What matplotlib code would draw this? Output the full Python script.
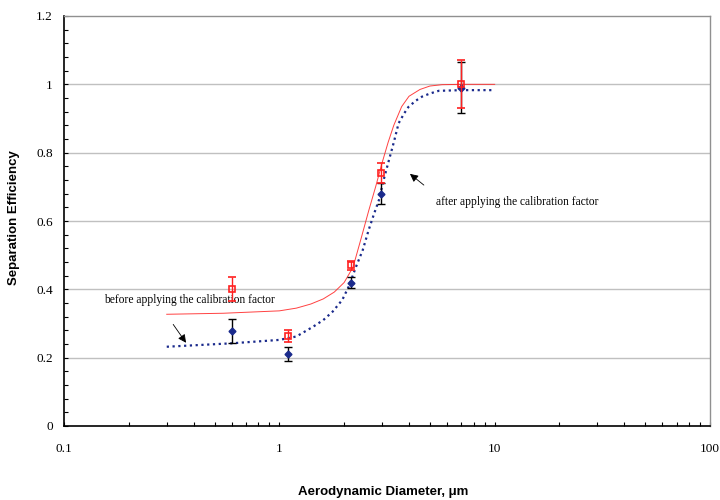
import matplotlib
matplotlib.use("Agg")
import matplotlib.pyplot as plt
from matplotlib.ticker import MultipleLocator, LogLocator, NullFormatter, FixedLocator, FixedFormatter

# measured points
x_pts = [0.6, 1.1, 2.15, 2.95, 7.0]
after_y = [0.40, 0.263, 0.47, 0.74, 1.0]
after_err = [0.035, 0.018, 0.012, 0.03, 0.07]
before_y = [0.277, 0.21, 0.42, 0.68, 0.99]
before_err = [0.035, 0.02, 0.015, 0.03, 0.075]

# fitted curves
after_cx = [0.3, 0.55, 1.0, 1.2, 1.4, 1.6, 1.8, 2.0, 2.2, 2.4, 2.6, 2.8, 3.0, 3.2, 3.4, 3.7, 4.0, 4.5, 5.0, 5.7, 7.0, 10.0]
after_cy = [0.327, 0.330, 0.337, 0.345, 0.357, 0.372, 0.392, 0.42, 0.465, 0.55, 0.63, 0.70, 0.77, 0.83, 0.88, 0.935, 0.965, 0.985, 0.995, 0.999, 1.0, 1.0]
before_cx = [0.3, 0.6, 1.0, 1.2, 1.43, 1.6, 1.77, 1.96, 2.1, 2.27, 2.44, 2.6, 2.75, 2.9, 3.05, 3.2, 3.4, 3.58, 3.8, 3.98, 4.3, 4.6, 5.0, 5.5, 7.0, 10.0]
before_cy = [0.232, 0.242, 0.252, 0.262, 0.29, 0.31, 0.335, 0.369, 0.408, 0.466, 0.515, 0.574, 0.62, 0.661, 0.72, 0.769, 0.83, 0.886, 0.915, 0.934, 0.952, 0.964, 0.973, 0.981, 0.983, 0.983]

x_ticks = [0.1, 1, 10, 100]
x_ticklabels = ["0.1", "1", "10", "100"]
y_ticks = [0, 0.2, 0.4, 0.6, 0.8, 1.0, 1.2]
y_ticklabels = ["0", "0.2", "0.4", "0.6", "0.8", "1", "1.2"]

RED = "#ff2020"
BLUE = "#1a2a8c"

fig = plt.figure(figsize=(7.2, 5.0), dpi=100)
ax = fig.add_axes([64/720, 74/500, 646/720, 410/500])
ax.set_xscale("log")
ax.set_xlim(0.1, 100)
ax.set_ylim(0, 1.2)

for v in y_ticks[1:-1]:
    ax.axhline(v, color="#c0c0c0", lw=1.0, zorder=0)

ax.plot(after_cx, after_cy, color=RED, lw=0.7, alpha=0.85, zorder=2)
ax.plot(before_cx, before_cy, color=BLUE, lw=1.6, ls=(0, (1, 1.6)), zorder=2)

ax.errorbar(x_pts, before_y, yerr=before_err, fmt="D", ms=3.5, mfc=BLUE, mec=BLUE,
            ecolor="black", elinewidth=1.0, capsize=3, capthick=1.0, zorder=3)
ax.errorbar(x_pts, after_y, yerr=after_err, fmt="s", ms=4.5, mfc="none", mec=RED, mew=1.2,
            ecolor=RED, elinewidth=1.0, capsize=3, capthick=1.0, zorder=4)

ax.xaxis.set_major_locator(FixedLocator(x_ticks))
ax.xaxis.set_major_formatter(FixedFormatter(x_ticklabels))
ax.xaxis.set_minor_locator(LogLocator(base=10, subs=range(2, 10)))
ax.xaxis.set_minor_formatter(NullFormatter())
ax.yaxis.set_major_locator(FixedLocator(y_ticks))
ax.yaxis.set_major_formatter(FixedFormatter(y_ticklabels))
ax.yaxis.set_minor_locator(MultipleLocator(0.04))

for lab in ax.get_xticklabels() + ax.get_yticklabels():
    lab.set_fontfamily("Liberation Serif")
    lab.set_fontsize(9.5)
ax.tick_params(axis="x", which="both", direction="in", length=3, width=0.8, pad=12)
ax.tick_params(axis="y", which="both", direction="in", length=3, width=0.8, pad=8)

for s in ["left", "bottom"]:
    ax.spines[s].set_color("black")
    ax.spines[s].set_linewidth(1.2)
for s in ["top", "right"]:
    ax.spines[s].set_color("#909090")
    ax.spines[s].set_linewidth(1.0)

fig.text(14/720, 1 - 218/500, "Separation Efficiency", family="Liberation Sans", weight="bold",
         size=9.5, rotation=90, ha="center", va="center")
fig.text(383/720, 1 - 492/500, "Aerodynamic Diameter, \u03bcm", family="Liberation Sans",
         weight="bold", size=9.5, ha="center", va="center")

ax.text(0.153, 0.369, "before applying the calibration factor", ha="left", va="center",
        fontfamily="Liberation Serif", fontsize=8.3)
ax.annotate("", xy=(0.375, 0.237), xytext=(0.316, 0.304),
            arrowprops=dict(arrowstyle="-|>", color="black", lw=0.6, mutation_scale=12))
ax.text(5.33, 0.656, "after applying the calibration factor", ha="left", va="center",
        fontfamily="Liberation Serif", fontsize=8.3)
ax.annotate("", xy=(3.95, 0.743), xytext=(4.8, 0.70),
            arrowprops=dict(arrowstyle="-|>", color="black", lw=0.6, mutation_scale=12))

fig.savefig("out.png", dpi=100)
